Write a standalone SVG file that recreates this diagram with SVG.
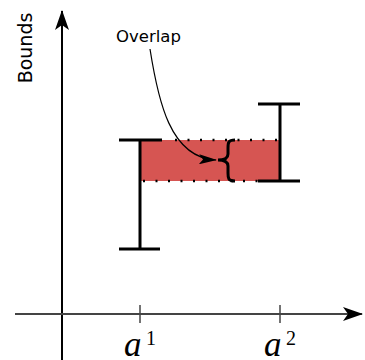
<svg xmlns="http://www.w3.org/2000/svg" width="365" height="360" viewBox="0 0 365 360">
<defs>
<style>
.axis{stroke:#000;stroke-width:2;fill:none}
.haxis{stroke:#444;stroke-width:2.2;fill:none}
.tick{stroke:#444;stroke-width:1.5}
.bar{stroke:#000;stroke-width:3;fill:none}
.dots{stroke:#000;stroke-width:2.5;stroke-dasharray:2 10.5;fill:none}
.lbl{font-family:"DejaVu Sans",sans-serif;fill:#000}
.math{font-family:"Liberation Serif",serif;fill:#000}
</style>
<marker id="stealth" viewBox="0 0 20 14" refX="19" refY="7" markerWidth="20" markerHeight="14" markerUnits="userSpaceOnUse" orient="auto">
<path d="M0,0 L20,7 L0,14 L5,7 Z" fill="#000"/>
</marker>
<marker id="small" viewBox="0 0 18 10" refX="17" refY="5" markerWidth="18" markerHeight="10" markerUnits="userSpaceOnUse" orient="auto">
<path d="M0,0 L18,5 L0,10 L4,5 Z" fill="#000"/>
</marker>
</defs>
<g id="axes">
<line class="axis" x1="62" y1="360" x2="62" y2="11" marker-end="url(#stealth)"/>
<line class="haxis" x1="15" y1="314" x2="362" y2="314" marker-end="url(#stealth)"/>
<line class="tick" x1="140" y1="305" x2="140" y2="323"/>
<line class="tick" x1="280" y1="305" x2="280" y2="323"/>
<text class="lbl" font-size="19" transform="translate(32,48) rotate(-90)" text-anchor="middle">Bounds</text>
<text class="math" x="124" y="356" font-size="35" font-style="italic">a</text>
<text class="math" x="146" y="345" font-size="20">1</text>
<text class="math" x="264" y="356" font-size="35" font-style="italic">a</text>
<text class="math" x="286" y="345" font-size="20">2</text>
</g>
<g id="overlap-region">
<rect x="140" y="140" width="140" height="41" fill="#d65552"/>
<line class="dots" x1="175" y1="140" x2="280" y2="140"/>
<line class="dots" x1="143" y1="181" x2="258" y2="181"/>
</g>
<g id="bar1">
<line class="bar" x1="140" y1="140" x2="140" y2="249"/>
<line class="bar" x1="119" y1="140" x2="162" y2="140"/>
<line class="bar" x1="119" y1="249" x2="160" y2="249"/>
</g>
<g id="bar2">
<line class="bar" x1="280" y1="104" x2="280" y2="181"/>
<line class="bar" x1="258" y1="104" x2="300" y2="104"/>
<line class="bar" x1="258" y1="181" x2="300" y2="181"/>
</g>
<g id="brace">
<path d="M235,140 C228,140 228,143 228,148 L228,154 C228,158 225,160 218,160 C225,160 228,162 228,166 L228,173 C228,178 228,181 235,181" fill="none" stroke="#000" stroke-width="3"/>
</g>
<g id="overlap-label">
<text class="lbl" x="116" y="42" font-size="16.5">Overlap</text>
</g>
<g id="connectors">
<path d="M150,49 C158,100 170,158 216,160" fill="none" stroke="#000" stroke-width="1.2" marker-end="url(#small)"/>
</g>
</svg>
